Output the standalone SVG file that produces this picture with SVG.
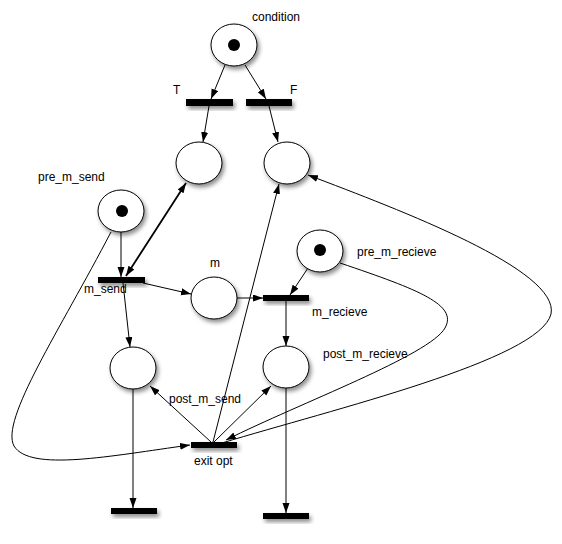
<svg xmlns="http://www.w3.org/2000/svg" width="562" height="544" viewBox="0 0 562 544">
<style>
.place{fill:#fff;stroke:#000;stroke-width:1;filter:url(#sh)}
.tok{fill:#000}
.bar{fill:#000;filter:url(#sh)}
.lbl{font-family:"Liberation Sans",Arial,sans-serif;font-size:12px;fill:#000}
.e{fill:none;stroke:#000;stroke-width:1;marker-end:url(#ah)}
</style>
<defs>
<filter id="sh" x="-30%" y="-30%" width="170%" height="200%">
<feDropShadow dx="2" dy="3" stdDeviation="2" flood-color="#000" flood-opacity="0.45"/>
</filter>
<marker id="ah" markerUnits="userSpaceOnUse" markerWidth="10" markerHeight="8" refX="10" refY="3.5" orient="auto-start-reverse">
<path d="M0,0 L10,3.5 L0,7 z" fill="#000"/>
</marker>
</defs>
<g id="connectors">
<line class="e" x1="225" y1="65" x2="211" y2="99"/>
<line class="e" x1="245" y1="65" x2="266" y2="99"/>
<line class="e" x1="209" y1="106" x2="203" y2="142"/>
<line class="e" x1="269" y1="106" x2="278" y2="142"/>
<line class="e" x1="121" y1="232" x2="121" y2="277"/>
<line class="e" x1="186" y1="183" x2="126" y2="276" style="marker-start:url(#ah);stroke-width:1.8"/>
<line class="e" x1="143" y1="283" x2="191" y2="294"/>
<line class="e" x1="237" y1="298" x2="263" y2="298"/>
<line class="e" x1="308" y1="268" x2="290" y2="295"/>
<line class="e" x1="286" y1="301" x2="286" y2="346"/>
<line class="e" x1="123" y1="283" x2="130" y2="347"/>
<line class="e" x1="211" y1="442" x2="150" y2="386"/>
<line class="e" x1="214" y1="442" x2="271" y2="386"/>
<line class="e" x1="213" y1="442" x2="279" y2="184"/>
<line class="e" x1="133" y1="389" x2="133" y2="508"/>
<line class="e" x1="286" y1="388" x2="286" y2="513"/>
<path class="e" d="M111,232 C60,330 0,420 14,446 C30,472 110,456 190,445"/>
<path class="e" d="M340,263 C420,290 458,305 445,328 C430,355 300,403 226,440"/>
<path class="e" d="M222,443 C330,410 540,360 551,314 C560,270 400,210 308,175"/>
</g>
<g id="condition"><ellipse class="place" cx="234" cy="45" rx="23" ry="21"/><circle class="tok" cx="234" cy="45" r="6"/><text class="lbl" x="252" y="21">condition</text></g>
<g id="t_T"><rect class="bar" x="186" y="99" width="47" height="7"/><text class="lbl" x="173" y="94">T</text></g>
<g id="t_F"><rect class="bar" x="246" y="99" width="46" height="7"/><text class="lbl" x="290" y="94">F</text></g>
<g id="p_T"><ellipse class="place" cx="199" cy="163" rx="23" ry="21"/></g>
<g id="p_F"><ellipse class="place" cx="287" cy="163" rx="23" ry="21"/></g>
<g id="pre_m_send"><ellipse class="place" cx="121" cy="211" rx="23" ry="21"/><circle class="tok" cx="122" cy="211" r="6"/><text class="lbl" x="38" y="181">pre_m_send</text></g>
<g id="m_send"><rect class="bar" x="98" y="277" width="47" height="6"/><text class="lbl" x="84" y="293">m_send</text></g>
<g id="m"><ellipse class="place" cx="214" cy="298" rx="23" ry="21"/><text class="lbl" x="210" y="267">m</text></g>
<g id="pre_m_recieve"><ellipse class="place" cx="320" cy="251" rx="23" ry="21"/><circle class="tok" cx="320" cy="250" r="6"/><text class="lbl" x="357" y="256">pre_m_recieve</text></g>
<g id="m_recieve"><rect class="bar" x="263" y="295" width="46" height="6"/><text class="lbl" x="312" y="316">m_recieve</text></g>
<g id="post_m_send"><ellipse class="place" cx="133" cy="368" rx="23" ry="21"/><text class="lbl" x="169" y="403">post_m_send</text></g>
<g id="post_m_recieve"><ellipse class="place" cx="286" cy="367" rx="23" ry="21"/><text class="lbl" x="323" y="358">post_m_recieve</text></g>
<g id="exit_opt"><rect class="bar" x="191" y="442" width="46" height="6"/><text class="lbl" x="194" y="465">exit opt</text></g>
<g id="t_end_send"><rect class="bar" x="111" y="508" width="46" height="6"/></g>
<g id="t_end_recieve"><rect class="bar" x="263" y="513" width="46" height="6"/></g>
</svg>
